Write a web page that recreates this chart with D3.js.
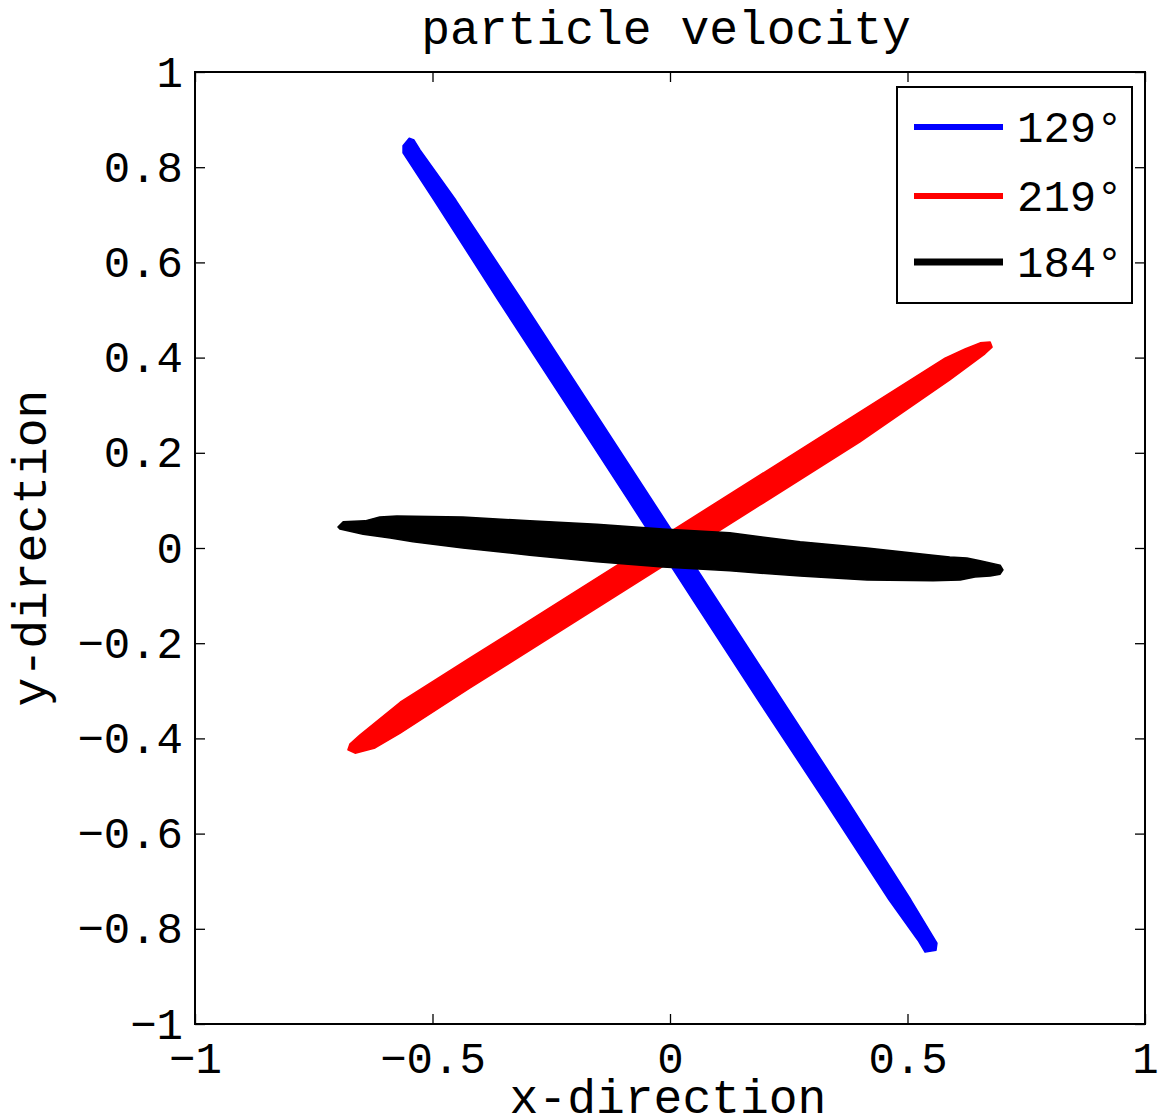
<!DOCTYPE html>
<meta charset="utf-8">

<!-- Load d3.js -->
<script src="https://d3js.org/d3.v7.min.js"></script>
<style>
  body { margin: 0; background: #fff; }
  text { font-family: "Liberation Mono", "DejaVu Sans Mono", monospace; fill: #000; }
</style>
<body>
<div id="chart"></div>

<script>
// tick values
var xTicks = [-1, -0.5, 0, 0.5, 1];
var yTicks = [-1, -0.8, -0.6, -0.4, -0.2, 0, 0.2, 0.4, 0.6, 0.8, 1];

// legend entries (plot order)
var seriesNames = ["129°", "219°", "184°"];
var seriesColors = ["#0000ff", "#ff0000", "#000000"];

// outline of each particle motion trace, [x, y]
var blueTrace = [
  [-0.549, 0.861], [-0.562, 0.845], [-0.562, 0.830], [-0.497, 0.731], [-0.362, 0.521],
  [-0.225, 0.311], [-0.088, 0.101], [0.048, -0.109], [0.185, -0.319], [0.324, -0.529],
  [0.461, -0.739], [0.522, -0.824], [0.537, -0.849], [0.560, -0.845], [0.562, -0.830],
  [0.507, -0.739], [0.373, -0.529], [0.236, -0.319], [0.099, -0.109], [-0.038, 0.101],
  [-0.175, 0.311], [-0.312, 0.521], [-0.451, 0.731], [-0.526, 0.836], [-0.539, 0.857]
];
var redTrace = [
  [-0.674, -0.412], [-0.653, -0.393], [-0.568, -0.324], [-0.421, -0.231], [-0.211, -0.099],
  [0, 0.034], [0.189, 0.153], [0.400, 0.286], [0.579, 0.399], [0.621, 0.418],
  [0.653, 0.431], [0.674, 0.433], [0.678, 0.422], [0.663, 0.408], [0.589, 0.353],
  [0.400, 0.223], [0.189, 0.090], [0, -0.029], [-0.211, -0.162], [-0.421, -0.294],
  [-0.568, -0.389], [-0.621, -0.420], [-0.663, -0.431], [-0.678, -0.424]
];
var blackTrace = [
  [-0.699, 0.044], [-0.688, 0.055], [-0.642, 0.057], [-0.611, 0.065], [-0.575, 0.067],
  [-0.436, 0.065], [-0.295, 0.057], [-0.154, 0.050], [-0.015, 0.040], [0.126, 0.032],
  [0.274, 0.013], [0.415, 0.000], [0.554, -0.015], [0.589, -0.019], [0.625, -0.021],
  [0.653, -0.027], [0.695, -0.036], [0.701, -0.046], [0.695, -0.055], [0.674, -0.059],
  [0.642, -0.061], [0.611, -0.067], [0.554, -0.069], [0.415, -0.067], [0.274, -0.059],
  [0.126, -0.048], [-0.015, -0.040], [-0.154, -0.029], [-0.295, -0.015], [-0.436, 0.000],
  [-0.541, 0.013], [-0.589, 0.021], [-0.646, 0.029], [-0.695, 0.040]
];
var traces = [blueTrace, redTrace, blackTrace];

// set the dimensions and margins of the graph
var margin = {top: 72, right: 17, bottom: 96, left: 195},
    width = 1162 - margin.left - margin.right,
    height = 1120 - margin.top - margin.bottom;

var svg = d3.select("#chart")
  .append("svg")
    .attr("width", width + margin.left + margin.right)
    .attr("height", height + margin.top + margin.bottom)
  .append("g")
    .attr("transform", "translate(" + margin.left + "," + margin.top + ")");

var x = d3.scaleLinear().domain([-1, 1]).range([0, width]);
var y = d3.scaleLinear().domain([-1, 1]).range([height, 0]);

var fmt = function(d) { return d3.format("")(d).replace("-", "\u2212"); };

// the traces, filled outlines
var outline = d3.line()
  .x(function(d) { return x(d[0]); })
  .y(function(d) { return y(d[1]); })
  .curve(d3.curveLinearClosed);

svg.selectAll(".trace")
  .data(traces)
  .enter().append("path")
    .attr("class", "trace")
    .attr("d", outline)
    .attr("fill", function(d, i) { return seriesColors[i]; })
    .attr("stroke", function(d, i) { return seriesColors[i]; })
    .attr("stroke-width", 1.5)
    .attr("stroke-linejoin", "round");

// axes, ticks pointing inward on all four sides
var tickLen = 10;
svg.append("g")
  .attr("transform", "translate(0," + height + ")")
  .call(d3.axisBottom(x).tickValues(xTicks).tickSize(-tickLen).tickPadding(18).tickFormat(fmt));
svg.append("g")
  .call(d3.axisTop(x).tickValues(xTicks).tickSize(-tickLen).tickFormat(""));
svg.append("g")
  .call(d3.axisLeft(y).tickValues(yTicks).tickSize(-tickLen).tickPadding(12).tickFormat(fmt));
svg.append("g")
  .attr("transform", "translate(" + width + ",0)")
  .call(d3.axisRight(y).tickValues(yTicks).tickSize(-tickLen).tickFormat(""));

svg.selectAll(".domain").remove();
svg.selectAll(".tick line").attr("stroke", "#000").attr("stroke-width", 1.3);
svg.selectAll(".tick text").style("font-size", "44px").attr("fill", "#000");

svg.append("rect")
  .attr("width", width)
  .attr("height", height)
  .attr("fill", "none")
  .attr("stroke", "#000")
  .attr("stroke-width", 2);

// legend
var legend = svg.append("g")
  .attr("transform", "translate(" + (897 - margin.left) + "," + (87 - margin.top) + ")");
legend.append("rect")
  .attr("width", 235)
  .attr("height", 216)
  .attr("fill", "#fff")
  .attr("stroke", "#000")
  .attr("stroke-width", 2);
var rowY = [40, 109, 175];
seriesNames.forEach(function(name, i) {
  legend.append("line")
    .attr("x1", 17).attr("x2", 106)
    .attr("y1", rowY[i]).attr("y2", rowY[i])
    .attr("stroke", seriesColors[i])
    .attr("stroke-width", i == 2 ? 7 : 6);
  legend.append("text")
    .attr("x", 120)
    .attr("y", rowY[i])
    .attr("dy", "0.35em")
    .style("font-size", "44px")
    .text(name);
});

// title and axis labels
svg.append("text")
  .attr("x", width / 2 - 4)
  .attr("y", -28)
  .attr("text-anchor", "middle")
  .style("font-size", "48px")
  .text("particle velocity");

svg.append("text")
  .attr("x", width / 2 - 2)
  .attr("y", 1113 - margin.top)
  .attr("text-anchor", "middle")
  .style("font-size", "48px")
  .text("x-direction");

svg.append("text")
  .attr("transform", "translate(" + (46 - margin.left) + "," + (height / 2) + ") rotate(-90)")
  .attr("text-anchor", "middle")
  .style("font-size", "48px")
  .text("y-direction");
</script>
</body>
